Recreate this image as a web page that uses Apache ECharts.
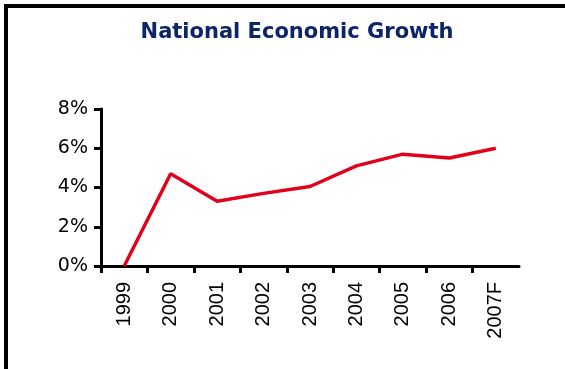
<!DOCTYPE html>
<html>
<head>
<meta charset="utf-8">
<script src="https://cdn.jsdelivr.net/npm/echarts@6/dist/echarts.min.js"></script>
<style>
  html, body { margin: 0; padding: 0; background: #fff; }
  #chart { width: 565px; height: 369px; }
</style>
</head>
<body>
<div id="chart"></div>
<script>
const titleText = 'National Economic Growth';
const categories = ['1999', '2000', '2001', '2002', '2003', '2004', '2005', '2006', '2007F'];
const growth = [0, 4.7, 3.3, 3.7, 4.05, 5.1, 5.7, 5.5, 6.0];
const yTicks = { min: 0, max: 8, interval: 2 };
// category boundaries used only to place the x-axis tick marks
const boundaries = ['b0', 'b1', 'b2', 'b3', 'b4', 'b5', 'b6', 'b7', 'b8', 'b9'];

const chart = echarts.init(document.getElementById('chart'), null, { renderer: 'canvas' });

chart.setOption({
  animation: false,
  backgroundColor: '#fff',
  title: {
    text: titleText,
    left: 292,
    textAlign: 'center',
    top: 17,
    textStyle: {
      fontFamily: 'DejaVu Sans',
      fontWeight: 'bold',
      fontSize: 21,
      color: '#0b2566'
    }
  },
  graphic: [
    { type: 'rect', shape: { x: 4, y: 4, width: 561, height: 4 }, style: { fill: '#000' } },
    { type: 'rect', shape: { x: 4, y: 4, width: 4, height: 365 }, style: { fill: '#000' } }
  ],
  grid: { left: 101, right: 46, top: 109, bottom: 103, containLabel: false },
  xAxis: [
    {
      type: 'category',
      data: categories,
      boundaryGap: true,
      axisLine: { show: true, lineStyle: { color: '#000', width: 3 } },
      axisTick: { show: false },
      axisLabel: {
        rotate: 90,
        margin: 16,
        color: '#000',
        fontFamily: 'Liberation Sans',
        fontSize: 20
      },
      splitLine: { show: false }
    },
    {
      type: 'category',
      data: boundaries,
      boundaryGap: false,
      position: 'bottom',
      axisLine: { show: false },
      axisTick: {
        show: true,
        length: 7,
        interval: function (index) { return index < boundaries.length - 1; },
        lineStyle: { color: '#000', width: 3 }
      },
      axisLabel: { show: false },
      splitLine: { show: false }
    }
  ],
  yAxis: {
    type: 'value',
    min: yTicks.min,
    max: yTicks.max,
    interval: yTicks.interval,
    axisLine: { show: true, lineStyle: { color: '#000', width: 3 } },
    axisTick: { show: true, length: 7, lineStyle: { color: '#000', width: 3 } },
    axisLabel: {
      formatter: '{value}%',
      margin: 13,
      color: '#000',
      fontFamily: 'DejaVu Sans',
      fontSize: 19
    },
    splitLine: { show: false }
  },
  series: [
    {
      type: 'line',
      xAxisIndex: 0,
      data: growth,
      symbol: 'none',
      smooth: false,
      z: 5,
      lineStyle: { color: '#e3001b', width: 3.5 }
    }
  ]
});
</script>
</body>
</html>
